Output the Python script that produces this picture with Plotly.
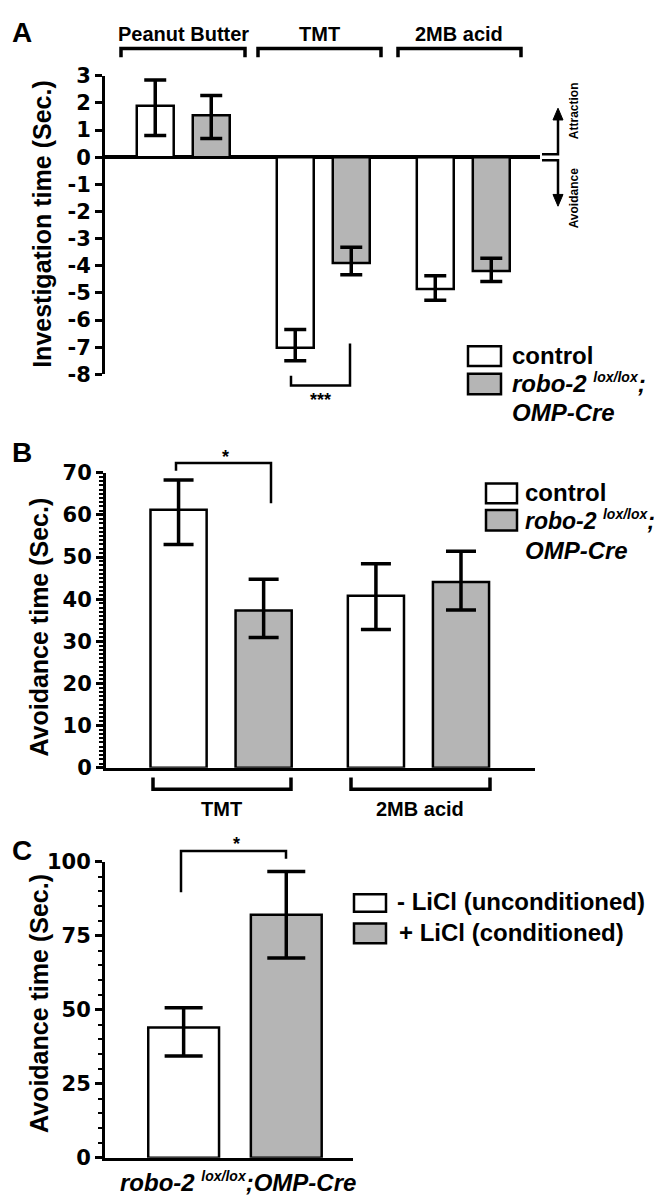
import plotly.graph_objects as go

W, H = 662, 1199
FONT = "Liberation Sans, Arial, Helvetica, sans-serif"
TICKFONT = "DejaVu Sans, Liberation Sans, Arial, sans-serif"
GRAY = "#b5b5b5"

# ---------------- Data ----------------
# Panel A: investigation time (sec.)
a_groups = ["Peanut Butter", "TMT", "2MB acid"]
a_control = [1.9, -7.02, -4.85]
a_control_up = [0.95, 0.67, 0.48]
a_control_dn = [1.1, 0.48, 0.42]
a_robo = [1.55, -3.9, -4.19]
a_robo_up = [0.73, 0.58, 0.47]
a_robo_dn = [0.86, 0.43, 0.39]
a_ticks = [3, 2, 1, 0, -1, -2, -3, -4, -5, -6, -7, -8]
a_ticklabels = ["3", "2", "1", "0", "-1", "-2", "-3", "-4", "-5", "-6", "-7", "-8"]

# Panel B: avoidance time (sec.)
b_groups = ["TMT", "2MB acid"]
b_control = [61.2, 40.8]
b_control_up = [7.1, 7.6]
b_control_dn = [8.2, 8.0]
b_robo = [37.3, 44.1]
b_robo_up = [7.4, 7.3]
b_robo_dn = [6.4, 6.7]
b_ticks = [0, 10, 20, 30, 40, 50, 60, 70]

# Panel C: avoidance time (sec.)
c_groups = ["- LiCl (unconditioned)", "+ LiCl (conditioned)"]
c_values = [44.0, 82.1]
c_up = [6.7, 14.6]
c_dn = [9.6, 14.6]
c_ticks = [0, 25, 50, 75, 100]


def X(px):
    return px / W


def Y(py):
    return 1 - py / H


fig = go.Figure()


def bar(x, y, up, dn, color, ax, width, capw):
    return go.Bar(
        x=x, y=y, width=width,
        marker=dict(color=color, line=dict(color="black", width=2.5)),
        error_y=dict(type="data", symmetric=False, array=up, arrayminus=dn,
                     color="black", thickness=3.5, width=capw),
        xaxis="x" + ax, yaxis="y" + ax, showlegend=False, hoverinfo="skip",
    )


# Panel A bars: group spacing 2.5 units, bars at +/-0.5
a_gx = [i * 2.5 for i in range(len(a_groups))]
fig.add_trace(bar([g - 0.5 for g in a_gx], a_control, a_control_up, a_control_dn, "white", "", 0.66, 11))
fig.add_trace(bar([g + 0.5 for g in a_gx], a_robo, a_robo_up, a_robo_dn, GRAY, "", 0.66, 11))

# Panel B bars
b_gx = [i * 2.32 for i in range(len(b_groups))]
fig.add_trace(bar([g - 0.5 for g in b_gx], b_control, b_control_up, b_control_dn, "white", "2", 0.66, 15))
fig.add_trace(bar([g + 0.5 for g in b_gx], b_robo, b_robo_up, b_robo_dn, GRAY, "2", 0.66, 15))

# Panel C bars
fig.add_trace(bar([-0.5], [c_values[0]], [c_up[0]], [c_dn[0]], "white", "3", 0.69, 19))
fig.add_trace(bar([0.5], [c_values[1]], [c_up[1]], [c_dn[1]], GRAY, "3", 0.69, 19))

tickfont = dict(family=TICKFONT, size=21, color="black")


def btick(vals):
    return [f"<b>{v}</b>" for v in vals]


xcommon = dict(showgrid=False, zeroline=False, showticklabels=False, ticks="", fixedrange=True)
ycommon = dict(showgrid=False, showline=True, linecolor="black", linewidth=3,
               ticks="outside", tickcolor="black", tickwidth=3, ticklen=7,
               tickfont=tickfont, fixedrange=True)

fig.update_layout(
    width=W, height=H,
    margin=dict(l=0, r=0, t=0, b=0),
    paper_bgcolor="white", plot_bgcolor="white",
    barmode="overlay", showlegend=False,
    font=dict(family=FONT, color="black"),
    xaxis=dict(domain=[X(97), X(532)], range=[-1.397, 6.37], anchor="y", showline=False, **xcommon),
    yaxis=dict(domain=[Y(361.6), Y(57)], range=[-8, 3], anchor="x",
               tickvals=a_ticks, ticktext=btick(a_ticklabels),
               zeroline=True, zerolinecolor="black", zerolinewidth=3.5, **ycommon),
    xaxis2=dict(domain=[X(98), X(527)], range=[-1.353, 3.69], anchor="y2",
                showline=True, linecolor="black", linewidth=3, **xcommon),
    yaxis2=dict(domain=[Y(763), Y(462)], range=[0, 70], anchor="x2",
                tickvals=b_ticks, ticktext=btick(b_ticks), zeroline=False,
                minor=dict(dtick=1, ticks="outside", ticklen=4, tickwidth=2, tickcolor="black", showgrid=False),
                **ycommon),
    xaxis3=dict(domain=[X(97), X(345)], range=[-1.266, 1.15], anchor="y3",
                showline=True, linecolor="black", linewidth=3, **xcommon),
    yaxis3=dict(domain=[Y(1161), Y(859)], range=[0, 100], anchor="x3",
                tickvals=c_ticks, ticktext=btick(c_ticks), zeroline=False,
                minor=dict(dtick=5, ticks="outside", ticklen=4, tickwidth=2, tickcolor="black", showgrid=False),
                **ycommon),
)

shapes = []
annotations = []


def path(pts, width=3.5, fill=None, close=False):
    d = "M " + " L ".join(f"{X(px):.5f},{Y(py):.5f}" for px, py in pts)
    if close:
        d += " Z"
    s = dict(type="path", path=d, xref="paper", yref="paper",
             line=dict(color="black", width=width))
    if fill:
        s["fillcolor"] = fill
    shapes.append(s)


def text(px, py, t, size, angle=0, xanchor="center"):
    annotations.append(dict(x=X(px), y=Y(py), xref="paper", yref="paper", text=t,
                            showarrow=False, textangle=angle, xanchor=xanchor, yanchor="middle",
                            font=dict(family=FONT, size=size, color="black")))


def box(x0, y0, x1, y1, color):
    shapes.append(dict(type="rect", xref="paper", yref="paper",
                       x0=X(x0), x1=X(x1), y0=Y(y1), y1=Y(y0),
                       fillcolor=color, line=dict(color="black", width=2.5)))


SUP = '<sup><span style="font-size:14px">lox/lox</span></sup>'

# Panel letters
text(14, 13, "<b>A</b>", 28)
text(14, 441, "<b>B</b>", 28)
text(14, 847, "<b>C</b>", 28)

# Y titles
text(34, 208, "<b>Investigation time (Sec.)</b>", 25, -90)
text(31, 620, "<b>Avoidance time (Sec.)</b>", 25, -90)
text(31, 1004, "<b>Avoidance time (Sec.)</b>", 25, -90)

# Panel A group brackets
a_br = [(113, 237), (250, 373), (390, 513)]
for (x0, x1), g in zip(a_br, a_groups):
    path([(x0, 38), (x0, 29), (x1, 29), (x1, 38)])
    text((x0 + x1) / 2, 14, f"<b>{g}</b>", 20)

# Significance A
path([(283, 363), (283, 373), (342, 373), (342, 330)], 2.5)
text(312, 388, "<b>***</b>", 18)

# Break + Attraction / Avoidance arrows
path([(534, 137), (550, 137), (550, 100)], 2.5)
path([(545, 102), (555, 102), (550, 90)], 1, fill="black", close=True)
path([(534, 143), (550, 143), (550, 180)], 2.5)
path([(545, 178), (555, 178), (550, 190)], 1, fill="black", close=True)
text(566, 93, "<b>Attraction</b>", 12, -90)
text(566, 182, "<b>Avoidance</b>", 12, -90)

# Legend A
box(460, 333, 493, 353, "white")
box(460, 361, 493, 382, GRAY)
text(502, 342, "<b>control</b>", 24, xanchor="left")
text(502, 370, f"<b><i>robo-2 {SUP};</i></b>", 24, xanchor="left")
text(502, 401, "<b><i>OMP-Cre</i></b>", 24, xanchor="left")

# Panel B brackets
b_br = [(145, 283), (343, 482)]
for (x0, x1), g in zip(b_br, b_groups):
    path([(x0, 773), (x0, 785), (x1, 785), (x1, 773)])
    text((x0 + x1) / 2, 805, f"<b>{g}</b>", 20)

# Significance B
path([(168, 460), (168, 452), (263, 452), (263, 493)], 2.5)
text(217, 446, "<b>*</b>", 18)

# Legend B
box(478, 473, 509, 493, "white")
box(478, 500, 509, 521, GRAY)
text(515, 482, "<b>control</b>", 24, xanchor="left")
text(515, 510, f"<b><i>robo-2 {SUP};</i></b>", 23, xanchor="left")
text(515, 541, "<b><i>OMP-Cre</i></b>", 24, xanchor="left")

# Significance C
path([(173, 890), (173, 848), (278, 848), (278, 856)], 2.5)
text(228, 841, "<b>*</b>", 18)

# Legend C
box(346, 892, 378, 910, "white")
box(346, 922, 378, 942, GRAY)
text(387, 899, f"<b>{c_groups[0]}</b>", 24, xanchor="left")
text(389, 931, f"<b>{c_groups[1]}</b>", 24, xanchor="left")

# C x label
text(230, 1186, f"<b><i>robo-2 {SUP};OMP-Cre</i></b>", 24)

fig.update_layout(shapes=shapes, annotations=annotations)
fig.write_html("out.html")
